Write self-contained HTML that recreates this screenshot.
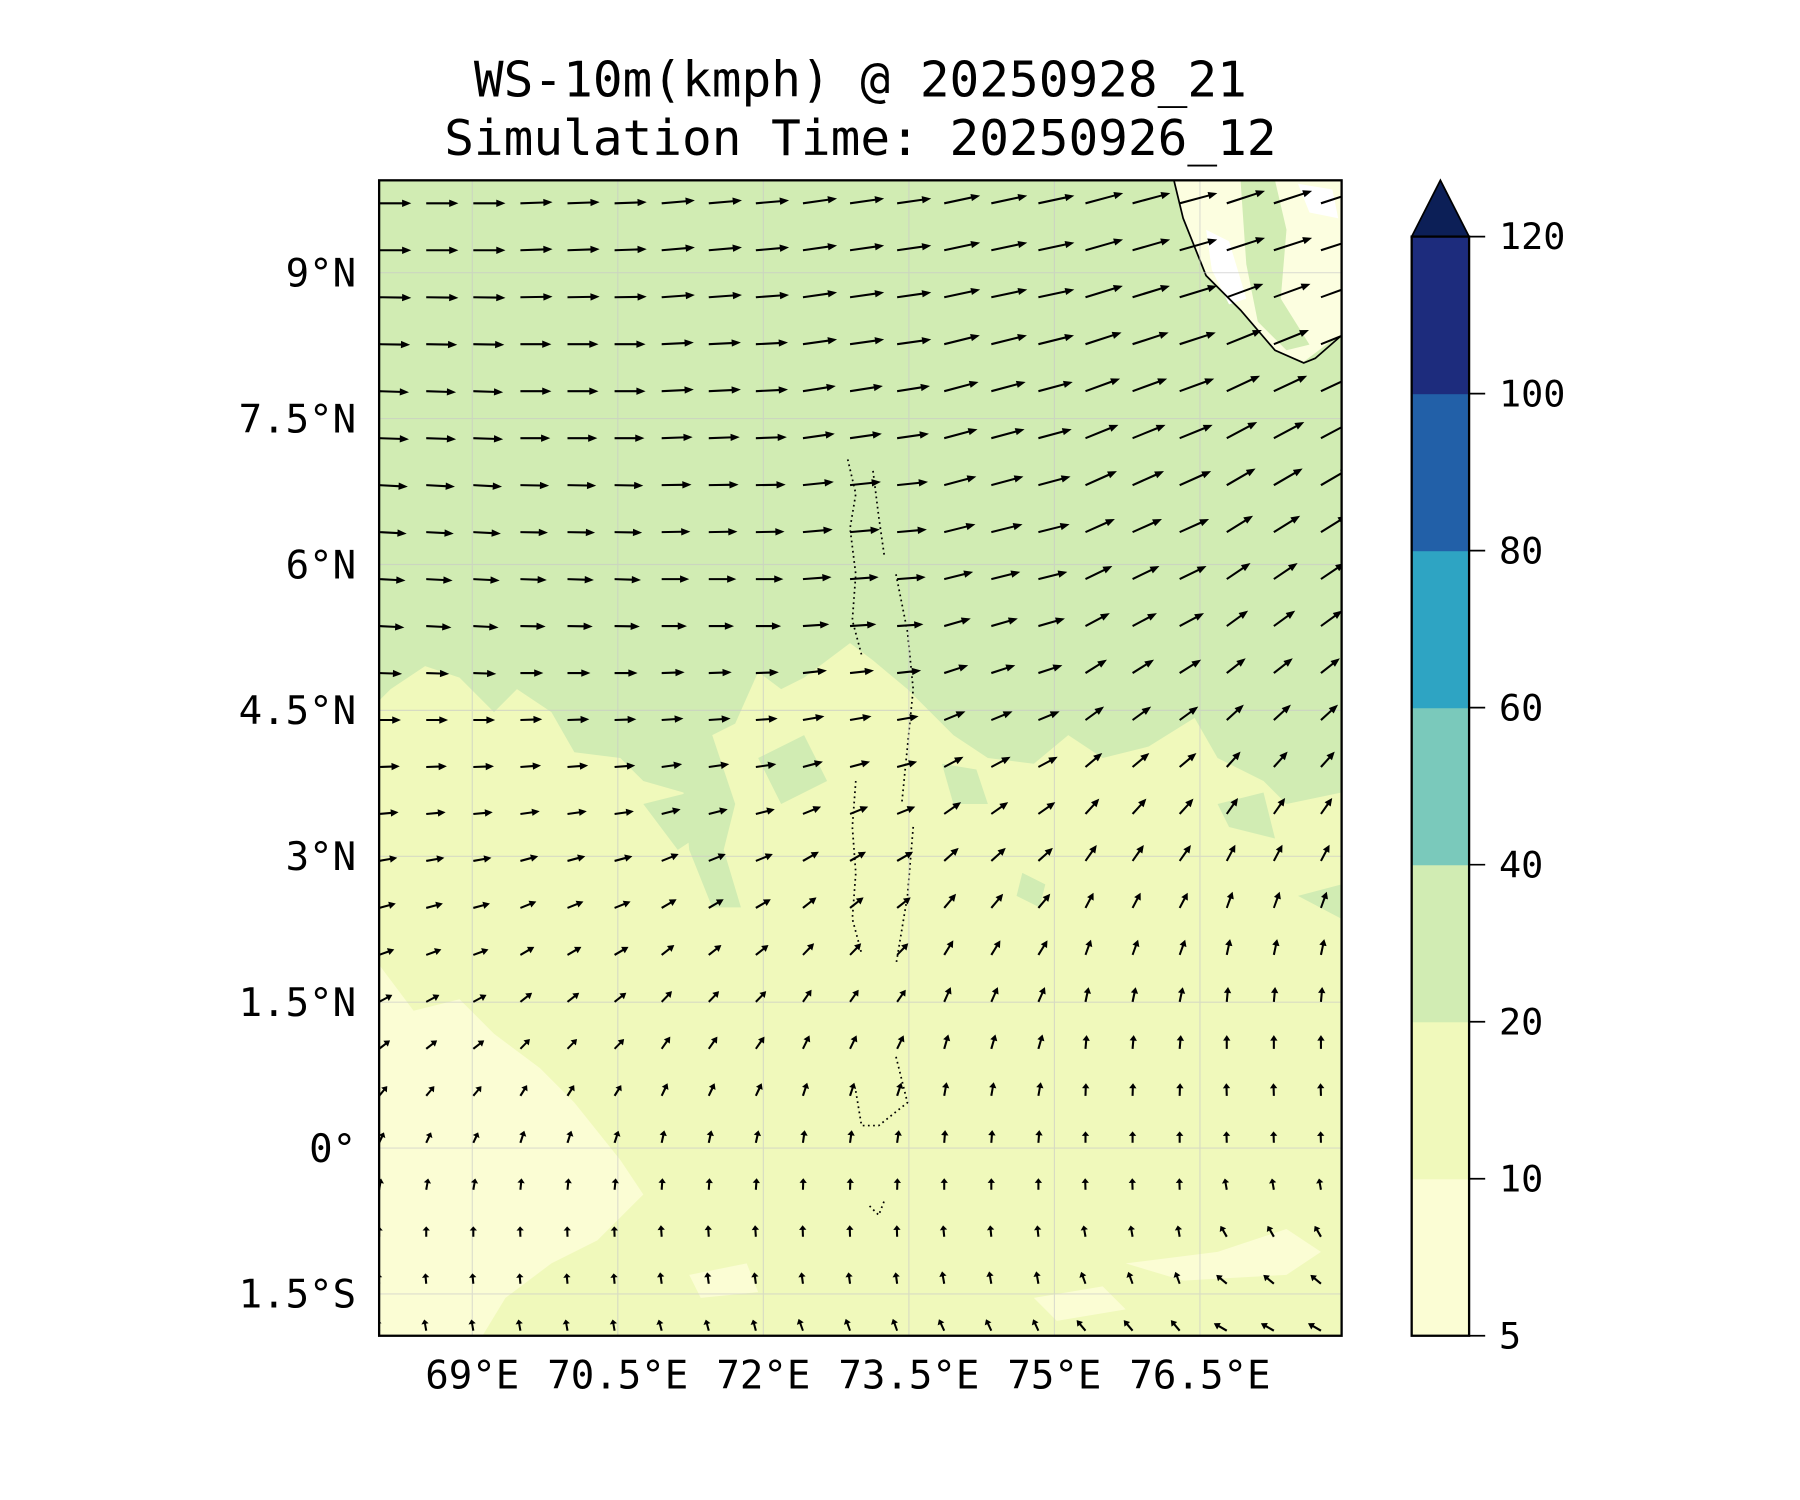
<!DOCTYPE html>
<html><head><meta charset="utf-8"><style>
html,body{margin:0;padding:0;background:#fff;}
svg{display:block;}
text{font-family:"DejaVu Sans Mono","Liberation Mono",monospace;fill:#000;}
</style></head><body>
<svg id="chart" width="1800" height="1500" viewBox="0 0 1567 1306" xmlns="http://www.w3.org/2000/svg">
<text x="749" y="84" font-size="43" text-anchor="middle">WS-10m(kmph) @ 20250928_21</text>
<text x="749" y="135" font-size="43" text-anchor="middle">Simulation Time: 20250926_12</text>
<defs><clipPath id="pc"><rect x="330" y="157" width="838" height="1006"/></clipPath></defs>
<g clip-path="url(#pc)">
<rect x="330" y="157" width="838" height="1006" fill="#f0f9bb"/>
<path fill="#d1ecb3" d="M330,157 L1168,157 L1168,690 L1120,700 L1100,680 L1060,660 L1040,625 L1000,650 L960,660 L930,640 L900,665 L860,660 L830,640 L810,620 L790,600 L760,575 L740,560 L720,575 L700,590 L680,600 L660,585 L640,630 L620,640 L640,700 L630,740 L645,790 L620,790 L600,740 L595,690 L560,680 L540,660 L500,655 L480,620 L450,600 L430,620 L400,590 L370,580 L340,600 L330,610 Z"/>
<path fill="#d1ecb3" d="M560,700 L600,690 L620,720 L590,740 Z M660,660 L700,640 L720,680 L680,700 Z M820,665 L850,670 L860,700 L830,700 Z M1060,700 L1100,690 L1110,730 L1070,720 Z M890,760 L910,770 L905,790 L885,780 Z M1130,780 L1168,770 L1168,800 Z"/>
<path fill="#fbfdd4" d="M330,840 L360,880 L400,870 L430,900 L470,930 L500,960 L540,1010 L560,1040 L520,1080 L480,1100 L440,1130 L420,1163 L330,1163 Z"/>
<path fill="#fbfdd4" d="M980,1100 L1060,1090 L1120,1070 L1150,1090 L1120,1110 L1030,1115 Z M900,1130 L960,1120 L980,1140 L920,1150 Z M600,1110 L650,1100 L660,1125 L610,1130 Z"/>
<path fill="#fcfee0" d="M1022,157 L1168,157 L1168,292 L1160,296 L1135,315 L1110,305 L1080,270 L1050,240 L1040,215 L1030,190 Z"/>
<path fill="#d1ecb3" d="M1080,157 L1110,157 L1120,200 L1115,260 L1140,300 L1120,305 L1095,280 L1085,230 Z"/>
<path fill="#ffffff" d="M1050,200 L1070,210 L1085,260 L1070,265 L1055,235 Z M1130,160 L1160,165 L1165,190 L1140,185 Z"/>
<path fill="none" stroke="#000" stroke-width="1.5" d="M1022,157 L1030,190 L1040,215 L1050,240 L1080,270 L1110,305 L1135,316 L1145,312 L1168,292"/>
<path fill="none" stroke="#000" stroke-width="1.5" stroke-dasharray="1.5,3" d="M738,400 L745,430 L740,460 L745,500 L742,540 L750,570 M760,410 L765,450 L770,485 M780,500 L790,550 L795,600 L790,650 L785,700 M745,680 L742,720 L745,760 L742,800 L750,830 M795,720 L790,780 L780,840 M745,950 L750,980 L765,980 L790,960 L780,920 M757,1050 L765,1058 L770,1045"/>
<g id="grid" stroke="#c8c8c8" stroke-width="1" opacity="0.6"></g>
<g id="arrows"></g>
</g>
<rect x="330" y="157" width="838" height="1006" fill="none" stroke="#000" stroke-width="2"/>
<g id="ticks"></g>
<g id="cbar"></g>
</svg>
<script>
const NS='http://www.w3.org/2000/svg';
const latTicks=[9,7.5,6,4.5,3,1.5,0,-1.5];
const latLabels=['9°N','7.5°N','6°N','4.5°N','3°N','1.5°N','0°','1.5°S'];
const lonTicks=[69,70.5,72,73.5,75,76.5];
const lonLabels=['69°E','70.5°E','72°E','73.5°E','75°E','76.5°E'];
const cbLevels=['5','10','20','40','60','80','100','120'];
const cbColors=['#fbfdd4','#f0f9bb','#d1ecb3','#7ac9bb','#2ea4c3','#2260a8','#1d2c7d'];
const cbExtend='#0c1f57';
// wind direction (deg, CCW from east) per row (north->south), 7 column groups
const windAngle=[
[0,2,5,8,12,15,18],[0,2,5,8,12,16,18],[-1,1,4,8,12,17,20],[-1,0,3,8,14,18,22],
[-2,0,3,9,15,20,25],[-2,0,2,8,15,22,28],[-3,-1,1,6,15,24,30],[-3,-1,1,5,14,24,32],
[-3,-2,0,4,14,26,34],[-3,-1,0,4,16,28,36],[-2,0,2,6,18,32,38],[0,2,4,10,22,36,42],
[2,4,8,15,28,40,48],[5,8,14,22,35,48,55],[10,15,22,30,42,55,62],[15,22,30,38,50,62,70],
[20,30,38,46,58,70,78],[28,38,46,55,66,78,85],[38,46,55,64,74,85,90],[50,58,65,72,80,88,92],
[65,72,78,82,86,90,92],[80,84,86,88,90,92,100],[90,92,94,92,96,100,120],[95,95,98,98,100,110,140],
[100,100,105,110,115,130,150]];
// wind speed (kmph) per row, 7 column groups
const windSpeed=[
[28,28,29,30,32,34,35],[28,28,29,30,32,34,35],[28,28,29,30,32,34,34],[27,27,28,30,32,33,33],
[26,27,28,29,31,32,32],[26,26,27,28,30,31,30],[25,25,26,27,29,30,29],[24,24,25,26,28,28,27],
[23,23,24,25,26,26,25],[22,22,22,23,24,24,23],[20,20,20,21,22,22,21],[19,19,19,19,20,20,20],
[18,18,18,18,19,19,18],[17,17,17,17,18,18,17],[16,16,16,16,17,17,16],[15,15,15,15,16,15,15],
[14,14,14,14,15,14,14],[13,13,13,13,14,13,13],[12,12,13,13,13,12,12],[11,11,12,12,12,11,11],
[10,11,11,11,11,10,10],[10,10,10,10,10,10,10],[9,9,10,10,10,10,11],[9,9,10,10,11,11,12],
[10,10,10,11,11,12,13]];
const X0=330,X1=1168,Y0=157,Y1=1163,LON0=68.04,LON1=77.96,LAT0=-1.93,LAT1=9.95;
const xs=v=>X0+(v-LON0)/(LON1-LON0)*(X1-X0);
const ys=v=>Y1-(v-LAT0)/(LAT1-LAT0)*(Y1-Y0);
const grid=document.getElementById('grid'),tk=document.getElementById('ticks');
function mk(tag,attrs,parent){const e=document.createElementNS(NS,tag);for(const k in attrs)e.setAttribute(k,attrs[k]);parent.appendChild(e);return e;}
latTicks.forEach((v,i)=>{const y=ys(v);
 const g=mk('line',{x1:X0,x2:X1,y1:y,y2:y},grid);
 
 
 const t=mk('text',{x:X0-20,y:y+12,'font-size':34,'text-anchor':'end'},tk);t.textContent=latLabels[i];
 
 
});
lonTicks.forEach((v,i)=>{const x=xs(v);
 const g=mk('line',{x1:x,x2:x,y1:Y0,y2:Y1},grid);
 
 
 const t=mk('text',{x:x,y:Y1+46,'font-size':34,'text-anchor':'middle'},tk);t.textContent=lonLabels[i];
 
 
});
const arr=document.getElementById('arrows');
const scale=1.0;
windAngle.forEach((row,r)=>{
 for(let c=0;c<21;c++){
  const gi=Math.floor(c/3);
  const a=row[gi]*Math.PI/180,L=windSpeed[r][gi]*scale;
  const x=X0+c*41,y=177+r*40.9;
  const dx=Math.cos(a),dy=-Math.sin(a),px=-dy,py=dx;
  const hl=Math.min(8,L*0.4),hw=3.2,sw=0.9;
  const bx=x+dx*(L-hl),by=y+dy*(L-hl),tx=x+dx*L,ty=y+dy*L;
  const pts=[[x+px*sw,y+py*sw],[bx+px*sw,by+py*sw],[bx+px*hw,by+py*hw],[tx,ty],[bx-px*hw,by-py*hw],[bx-px*sw,by-py*sw],[x-px*sw,y-py*sw]];
  const p=mk('polygon',{points:pts.map(q=>q[0].toFixed(1)+','+q[1].toFixed(1)).join(' '),fill:'#000'},arr);
  
  
 }
});
const cb=document.getElementById('cbar');
const CX0=1229,CX1=1279,CT=206,CB=1163,n=cbColors.length,seg=(CB-CT)/n;
cbColors.forEach((col,i)=>{
 const r=mk('rect',{x:CX0,y:CB-(i+1)*seg,width:CX1-CX0,height:seg+0.5,fill:col},cb);
 
 
});
const tri=mk('polygon',{points:`${CX0},${CT} ${(CX0+CX1)/2},157 ${CX1},${CT}`,fill:cbExtend,stroke:'#000','stroke-width':1.5},cb);


const fr=mk('rect',{x:CX0,y:CT,width:CX1-CX0,height:CB-CT,fill:'none',stroke:'#000','stroke-width':2},cb);


cbLevels.forEach((lab,i)=>{const y=CB-i*seg;
 mk('line',{x1:CX1,x2:CX1+14,y1:y,y2:y,stroke:'#000','stroke-width':1.5},cb);
 const t=mk('text',{x:CX1+26,y:y+11,'font-size':32},cb);t.textContent=lab;
 
 
});
</script>
</body></html>
